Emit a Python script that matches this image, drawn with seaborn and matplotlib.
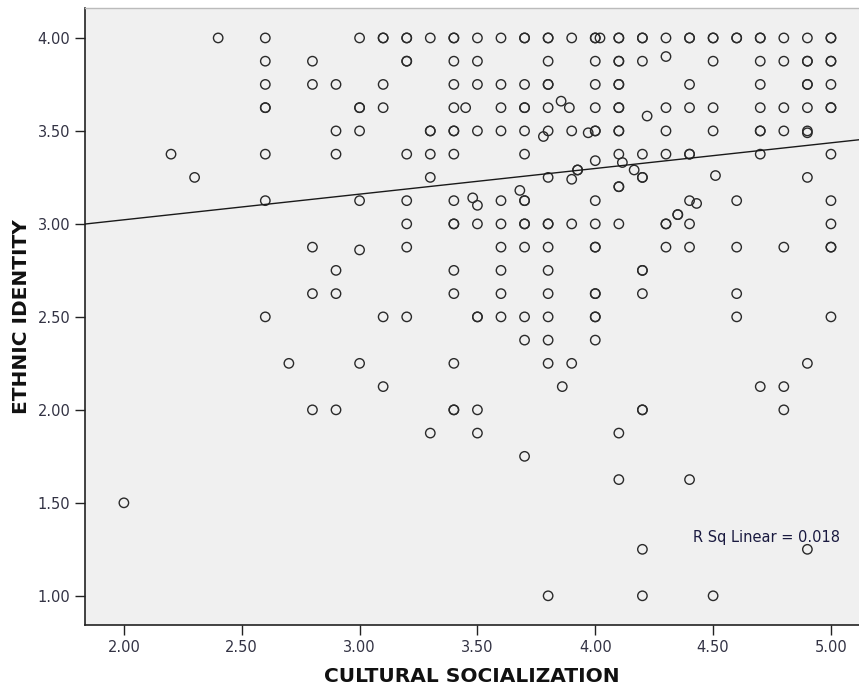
import numpy as np
import pandas as pd
import matplotlib
matplotlib.use("Agg")
import matplotlib.pyplot as plt
import seaborn as sns

# ---- data (one line per CULTURAL SOCIALIZATION column) ----
cultural_socialization = [
    2.0,
    2.2,
    2.3,
    2.4,
    2.6, 2.6, 2.6, 2.6, 2.6, 2.6, 2.6, 2.6,
    2.7,
    2.8, 2.8, 2.8, 2.8, 2.8,
    2.9, 2.9, 2.9, 2.9, 2.9, 2.9,
    3.0, 3.0, 3.0, 3.0, 3.0, 3.0, 3.0,
    3.1, 3.1, 3.1, 3.1, 3.1, 3.1,
    3.2, 3.2, 3.2, 3.2, 3.2, 3.2, 3.2, 3.2, 3.2,
    3.3, 3.3, 3.3, 3.3, 3.3, 3.3,
    3.4, 3.4, 3.4, 3.4, 3.4, 3.4, 3.4, 3.4, 3.4, 3.4, 3.4, 3.4, 3.4, 3.4, 3.4, 3.4,
    3.45,
    3.48,
    3.5, 3.5, 3.5, 3.5, 3.5, 3.5, 3.5, 3.5, 3.5, 3.5,
    3.6, 3.6, 3.6, 3.6, 3.6, 3.6, 3.6, 3.6, 3.6, 3.6,
    3.68,
    3.7, 3.7, 3.7, 3.7, 3.7, 3.7, 3.7, 3.7, 3.7, 3.7, 3.7, 3.7, 3.7, 3.7, 3.7,
    3.78,
    3.8, 3.8, 3.8, 3.8, 3.8, 3.8, 3.8, 3.8, 3.8, 3.8, 3.8, 3.8, 3.8, 3.8, 3.8, 3.8, 3.8,
    3.855, 3.86, 3.89,
    3.9, 3.9, 3.9, 3.9, 3.9,
    3.925, 3.925,
    3.97,
    4.0, 4.0, 4.0, 4.0, 4.0, 4.0, 4.0, 4.0, 4.0, 4.0, 4.0, 4.0, 4.0, 4.0, 4.0, 4.0, 4.0,
    4.02,
    4.1, 4.1, 4.1, 4.1, 4.1, 4.1, 4.1, 4.1, 4.1, 4.1, 4.1, 4.1, 4.1, 4.1, 4.1, 4.1,
    4.115, 4.165,
    4.2, 4.2, 4.2, 4.2, 4.2, 4.2, 4.2, 4.2, 4.2, 4.2, 4.2, 4.2, 4.2,
    4.22,
    4.3, 4.3, 4.3, 4.3, 4.3, 4.3, 4.3, 4.3,
    4.35, 4.35,
    4.4, 4.4, 4.4, 4.4, 4.4, 4.4, 4.4, 4.4, 4.4, 4.4,
    4.43,
    4.5, 4.5, 4.5, 4.5, 4.5, 4.5,
    4.51,
    4.6, 4.6, 4.6, 4.6, 4.6, 4.6,
    4.7, 4.7, 4.7, 4.7, 4.7, 4.7, 4.7, 4.7, 4.7,
    4.8, 4.8, 4.8, 4.8, 4.8, 4.8, 4.8,
    4.9, 4.9, 4.9, 4.9, 4.9, 4.9, 4.9, 4.9, 4.9, 4.9, 4.9,
    5.0, 5.0, 5.0, 5.0, 5.0, 5.0, 5.0, 5.0, 5.0, 5.0, 5.0, 5.0, 5.0,
]

ethnic_identity = [
    1.5,
    3.375,
    3.25,
    4.0,
    4.0, 3.875, 3.75, 3.625, 3.625, 3.375, 3.125, 2.5,
    2.25,
    3.875, 3.75, 2.875, 2.625, 2.0,
    3.75, 3.5, 3.375, 2.75, 2.625, 2.0,
    4.0, 3.625, 3.625, 3.5, 3.125, 2.86, 2.25,
    4.0, 4.0, 3.75, 3.625, 2.5, 2.125,
    4.0, 4.0, 3.875, 3.875, 3.375, 3.125, 3.0, 2.875, 2.5,
    4.0, 3.5, 3.5, 3.375, 3.25, 1.875,
    4.0, 4.0, 3.875, 3.75, 3.625, 3.5, 3.5, 3.375, 3.125, 3.0, 3.0, 2.75, 2.625, 2.25, 2.0, 2.0,
    3.625,
    3.14,
    4.0, 3.875, 3.75, 3.5, 3.1, 3.0, 2.5, 2.5, 2.0, 1.875,
    4.0, 3.75, 3.625, 3.5, 3.125, 3.0, 2.875, 2.75, 2.625, 2.5,
    3.18,
    4.0, 4.0, 3.75, 3.625, 3.625, 3.5, 3.375, 3.125, 3.125, 3.0, 3.0, 2.875, 2.5, 2.375, 1.75,
    3.47,
    4.0, 4.0, 3.875, 3.75, 3.75, 3.625, 3.5, 3.25, 3.0, 3.0, 2.875, 2.75, 2.625, 2.5, 2.375, 2.25, 1.0,
    3.66, 2.125, 3.625,
    4.0, 3.5, 3.24, 3.0, 2.25,
    3.29, 3.29,
    3.49,
    4.0, 4.0, 3.875, 3.75, 3.625, 3.5, 3.5, 3.34, 3.125, 3.0, 2.875, 2.875, 2.625, 2.625, 2.5, 2.5, 2.375,
    4.0,
    4.0, 4.0, 3.875, 3.875, 3.75, 3.75, 3.625, 3.625, 3.5, 3.5, 3.375, 3.2, 3.2, 3.0, 1.875, 1.625,
    3.33, 3.29,
    4.0, 4.0, 3.875, 3.375, 3.25, 3.25, 2.75, 2.75, 2.625, 2.0, 2.0, 1.25, 1.0,
    3.58,
    4.0, 3.9, 3.625, 3.5, 3.375, 3.0, 3.0, 2.875,
    3.05, 3.05,
    4.0, 4.0, 3.75, 3.625, 3.375, 3.375, 3.125, 3.0, 2.875, 1.625,
    3.11,
    4.0, 4.0, 3.875, 3.625, 3.5, 1.0,
    3.26,
    4.0, 4.0, 3.125, 2.875, 2.625, 2.5,
    4.0, 4.0, 3.875, 3.75, 3.625, 3.5, 3.5, 3.375, 2.125,
    4.0, 3.875, 3.625, 3.5, 2.875, 2.125, 2.0,
    4.0, 3.875, 3.875, 3.75, 3.75, 3.625, 3.49, 3.5, 3.25, 2.25, 1.25,
    4.0, 4.0, 3.875, 3.875, 3.75, 3.625, 3.625, 3.375, 3.125, 3.0, 2.875, 2.875, 2.5,
]

# Linear fit line (SPSS fit on the full, partly overlapping data)
fit_intercept = 2.746
fit_slope = 0.138

x_ticks = [2.0, 2.5, 3.0, 3.5, 4.0, 4.5, 5.0]
y_ticks = [1.0, 1.5, 2.0, 2.5, 3.0, 3.5, 4.0]
x_label = "CULTURAL SOCIALIZATION"
y_label = "ETHNIC IDENTITY"
fit_text = "R Sq Linear = 0.018"

df = pd.DataFrame({"cs": cultural_socialization, "ei": ethnic_identity})

sns.set_style("ticks")
plt.rcParams["font.family"] = ["DejaVu Sans"]

fig = plt.figure(figsize=(8.59, 6.92), dpi=100)
ax = fig.add_axes([85 / 859, 1 - 625 / 692, 1 - 85 / 859, (625 - 8) / 692])
ax.set_facecolor("#F0F0F0")

xlim = (1.835, 5.119)
ylim = (0.843, 4.161)

sns.scatterplot(data=df, x="cs", y="ei", ax=ax, marker="o", s=46,
                facecolors="none", edgecolor="#2a2a2a", linewidth=1.0, zorder=3)
ax.axline((0.0, fit_intercept), slope=fit_slope, color="#1a1a1a", linewidth=1.0, zorder=4)
ax.set_xlim(*xlim)
ax.set_ylim(*ylim)

ax.set_xticks(x_ticks)
ax.set_xticklabels([f"{v:.2f}" for v in x_ticks])
ax.set_yticks(y_ticks)
ax.set_yticklabels([f"{v:.2f}" for v in y_ticks])
ax.tick_params(axis="both", direction="out", length=7.5, width=1.0, color="#222222",
               labelsize=10.5, labelcolor="#333344", pad=3)

ax.set_xlabel(x_label, fontsize=14.5, fontweight="bold", color="#111111", labelpad=9)
ax.set_ylabel(y_label, fontsize=14.5, fontweight="bold", color="#111111", labelpad=5)

for side in ["left", "bottom"]:
    ax.spines[side].set_color("#222222")
    ax.spines[side].set_linewidth(1.2)
ax.spines["top"].set_visible(True)
ax.spines["top"].set_color("#bbbbbb")
ax.spines["top"].set_linewidth(1.0)
ax.spines["right"].set_visible(False)

ax.text(4.414, 1.311, fit_text, fontsize=10.5, color="#1a1a40", ha="left", va="center", zorder=5)

fig.savefig("out.png", dpi=100, facecolor="white")
